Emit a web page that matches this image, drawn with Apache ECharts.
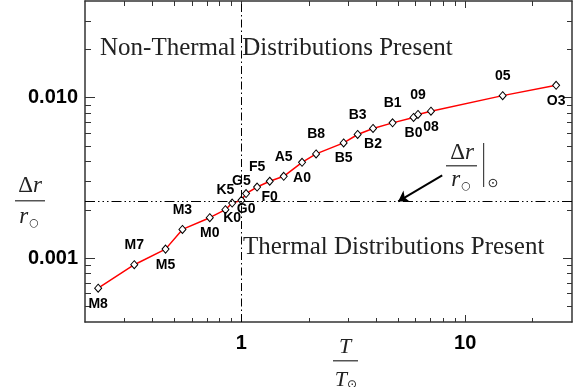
<!DOCTYPE html>
<html>
<head>
<meta charset="utf-8">
<title>Delta r / r vs T / T_sun</title>
<script src="https://cdn.jsdelivr.net/npm/echarts@6.0.0/dist/echarts.min.js"></script>
<style>
  html, body { margin: 0; padding: 0; background: #fff; }
  #main { width: 581px; height: 387px; }
</style>
</head>
<body>
<div id="main"></div>
<script>
// spectral types, coolest to hottest
const spType = ['M8', 'M7', 'M5', 'M3', 'M0', 'K5', 'K0', 'G5', 'G0', 'F5', 'F0', 'A5', 'A0',
  'B8', 'B5', 'B3', 'B2', 'B1', 'B0', '09', '08', '05', 'O3']
// T / T_sun
const tRatio = [0.229, 0.332, 0.458, 0.545, 0.722, 0.848, 0.909, 1.0, 1.049, 1.175, 1.338, 1.545, 1.866,
  2.156, 2.862, 3.306, 3.873, 4.736, 5.876, 6.15, 7.029, 14.7, 25.48]
// delta r / r
const drRatio = [0.00065, 0.00091, 0.001138, 0.00151, 0.001786, 0.002004, 0.002204, 0.002291, 0.002524,
  0.002774, 0.003013, 0.003235, 0.003953, 0.004459, 0.005223, 0.005893, 0.006426, 0.006964, 0.007522,
  0.007855, 0.008236, 0.01029, 0.01193]

// axis ticks
const xMajor = [1, 10]
const xMinor = [0.3, 0.4, 0.5, 0.6, 0.7, 0.8, 0.9, 2, 3, 4, 5, 6, 7, 8, 9, 20]
const yMajor = [0.001, 0.01]
const yMinor = [0.0005, 0.0006, 0.0007, 0.0008, 0.0009, 0.002, 0.003, 0.004, 0.005, 0.006, 0.007,
  0.008, 0.009, 0.02, 0.03]

// axis ranges
const xRange = [0.2, 30]
const yRange = [0.0004, 0.04]

// solar reference values
const solarT = 1
const solarDr = 0.00226
// arrow pointing at the solar level
const arrowFrom = [7.89, 0.00328]
const arrowTo = [5.02, 0.00226]

const frame = '#333'
const serif = 'Liberation Serif'

function axis(kind, pos, ticks, len, main) {
  const isX = kind === 'x'
  const range = isX ? xRange : yRange
  return {
    type: 'log',
    logBase: 10,
    position: pos,
    gridIndex: 0,
    min: range[0],
    max: range[1],
    axisLine: { show: main, onZero: false, lineStyle: { color: frame, width: 1.5 } },
    axisTick: { show: true, inside: true, length: len, customValues: ticks, lineStyle: { color: frame, width: 1 } },
    axisLabel: {
      show: main && (pos === 'bottom' || pos === 'left'),
      customValues: isX ? xMajor : yMajor,
      formatter: v => (isX ? String(v) : Number(v).toFixed(3)),
      margin: isX ? 11 : 7,
      color: '#000',
      fontFamily: 'Liberation Sans',
      fontWeight: 'bold',
      fontSize: 20
    },
    splitLine: { show: false },
    minorTick: { show: false }
  }
}

const pts = tRatio.map((t, i) => ({
  value: [t, drRatio[i]],
  label: i % 2 ? { position: 'top', distance: 8 } : { position: 'bottom', distance: 4 }
}))

const option = {
  animation: false,
  backgroundColor: '#fff',
  grid: { left: 85, right: 9, top: 1, bottom: 65 },
  xAxis: [
    axis('x', 'bottom', xMajor, 7, true),
    axis('x', 'bottom', xMinor, 4, false),
    axis('x', 'top', xMajor, 7, true),
    axis('x', 'top', xMinor, 5, false)
  ],
  yAxis: [
    axis('y', 'left', yMajor, 10, true),
    axis('y', 'left', yMinor, 6, false),
    axis('y', 'right', yMajor, 9, true),
    axis('y', 'right', yMinor, 5, false)
  ],
  series: [
    {
      type: 'line',
      xAxisIndex: 0,
      yAxisIndex: 0,
      data: pts,
      symbol: 'diamond',
      symbolSize: [7, 8],
      showAllSymbol: true,
      lineStyle: { color: '#ff0000', width: 1.5 },
      itemStyle: { color: '#fff', borderColor: '#000', borderWidth: 1 },
      label: {
        show: true,
        formatter: p => spType[p.dataIndex],
        color: '#000',
        fontFamily: 'Liberation Sans',
        fontWeight: 'bold',
        fontSize: 14
      },
      z: 3,
      markLine: {
        silent: true,
        symbol: 'none',
        label: { show: false },
        animation: false,
        data: [
          [
            { coord: [solarT, yRange[0]], lineStyle: { color: '#000', width: 1, type: [8, 3, 1.5, 3] } },
            { coord: [solarT, yRange[1]] }
          ],
          [
            { coord: [xRange[0], solarDr], lineStyle: { color: '#000', width: 1, type: [10, 3, 1.5, 3, 1.5, 3, 1.5, 3] } },
            { coord: [xRange[1], solarDr] }
          ],
          [
            { coord: arrowFrom, symbol: 'none', lineStyle: { color: '#000', width: 2, type: 'solid' } },
            { coord: arrowTo, symbol: 'arrow', symbolSize: 10 }
          ]
        ]
      }
    }
  ],
  graphic: [
    // region notes
    { type: 'text', left: 100, top: 36, style: { text: 'Non-Thermal Distributions Present', font: '25px "' + serif + '"', fill: '#222' } },
    { type: 'text', left: 243, top: 235, style: { text: 'Thermal Distributions Present', font: '25px "' + serif + '"', fill: '#222' } },
    // y title  dr / r
    { type: 'text', x: 30, y: 186, style: { text: '{n|Δ}{i|r}', align: 'center', verticalAlign: 'middle', rich: { n: { font: '23px "' + serif + '"', fill: '#222' }, i: { font: 'italic 23px "' + serif + '"', fill: '#222' } } } },
    { type: 'rect', shape: { x: 15, y: 200, width: 30, height: 1.5 }, style: { fill: '#555' } },
    { type: 'text', x: 29, y: 217, style: { text: '{i|r}{s|○}', align: 'center', verticalAlign: 'middle', rich: { i: { font: 'italic 23px "' + serif + '"', fill: '#222' }, s: { font: '11px "DejaVu Sans"', fill: '#222', padding: [12, 0, 0, 1] } } } },
    // x title  T / T_sun
    { type: 'text', x: 345, y: 347, style: { text: 'T', align: 'center', verticalAlign: 'middle', font: 'italic 22px "' + serif + '"', fill: '#222' } },
    { type: 'rect', shape: { x: 333, y: 360, width: 25, height: 1.5 }, style: { fill: '#555' } },
    { type: 'text', x: 346, y: 380, style: { text: '{i|T}{s|⊙}', align: 'center', verticalAlign: 'middle', rich: { i: { font: 'italic 22px "' + serif + '"', fill: '#222' }, s: { font: '12px "DejaVu Sans"', fill: '#222', padding: [10, 0, 0, 0] } } } },
    // solar value note near arrow
    { type: 'text', x: 462, y: 153, style: { text: '{n|Δ}{i|r}', align: 'center', verticalAlign: 'middle', rich: { n: { font: '23px "' + serif + '"', fill: '#222' }, i: { font: 'italic 23px "' + serif + '"', fill: '#222' } } } },
    { type: 'rect', shape: { x: 446, y: 165, width: 31, height: 1.5 }, style: { fill: '#555' } },
    { type: 'text', x: 461, y: 180, style: { text: '{i|r}{s|○}', align: 'center', verticalAlign: 'middle', rich: { i: { font: 'italic 23px "' + serif + '"', fill: '#222' }, s: { font: '11px "DejaVu Sans"', fill: '#222', padding: [12, 0, 0, 1] } } } },
    { type: 'rect', shape: { x: 483, y: 143, width: 1.2, height: 44 }, style: { fill: '#444' } },
    { type: 'text', x: 493, y: 184, style: { text: '⊙', align: 'center', verticalAlign: 'middle', font: '13px "DejaVu Sans"', fill: '#222' } }
  ]
}

let myChart = echarts.init(document.getElementById('main'))
myChart.setOption(option)
window.addEventListener('resize', () => {
  myChart.resize()
})
</script>
</body>
</html>
